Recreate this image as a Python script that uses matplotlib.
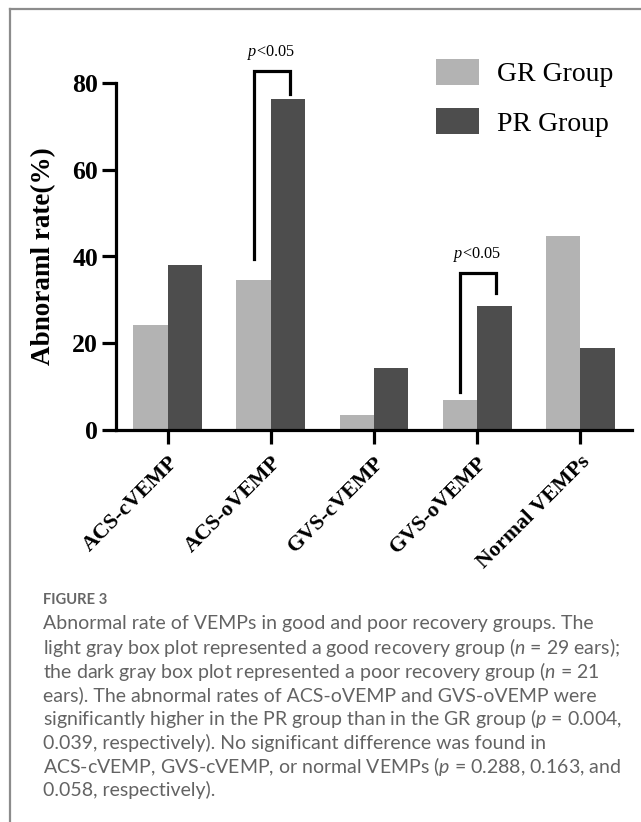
import numpy as np
import matplotlib.pyplot as plt
from matplotlib.lines import Line2D

plt.rcParams['mathtext.fontset'] = 'custom'
plt.rcParams['mathtext.rm'] = 'Liberation Serif'
plt.rcParams['mathtext.it'] = 'Liberation Serif:italic'
plt.rcParams['mathtext.bf'] = 'Lato:italic'

# abnormal rate (%) per test, good vs poor recovery
categories = ['ACS-cVEMP', 'ACS-oVEMP', 'GVS-cVEMP', 'GVS-oVEMP', 'Normal VEMPs']
gr_rate = [24.1, 34.5, 3.4, 6.9, 44.8]
pr_rate = [38.1, 76.2, 14.3, 28.6, 19.0]

# significance brackets: category index, left leg start, top, right leg end
sig_cat = [1, 3]
sig_left = [39.5, 8.8]
sig_top = [82.8, 36.2]
sig_right = [77.5, 31.5]
sig_label = r'$\mathit{p}$<0.05'

caption_title = 'FIGURE 3'
caption_lines = [
    'Abnormal rate of VEMPs in good and poor recovery groups. The',
    r'light gray box plot represented a good recovery group ($\mathbf{n}$ = 29 ears);',
    r'the dark gray box plot represented a poor recovery group ($\mathbf{n}$ = 21',
    'ears). The abnormal rates of ACS-oVEMP and GVS-oVEMP were',
    r'significantly higher in the PR group than in the GR group ($\mathbf{p}$ = 0.004,',
    '0.039, respectively). No significant difference was found in',
    r'ACS-cVEMP, GVS-cVEMP, or normal VEMPs ($\mathbf{p}$ = 0.288, 0.163, and',
    '0.058, respectively).',
]

light = '#b3b3b3'
dark = '#4d4d4d'
serif = 'Liberation Serif'

fig = plt.figure(figsize=(6.41, 8.22), dpi=100)
ax = fig.add_axes([116 / 641, 1 - 430 / 822, 516 / 641, 347 / 822])

x = np.arange(len(categories))
w = 1 / 3
ax.bar(x - w / 2, gr_rate, w, color=light, label='GR Group')
ax.bar(x + w / 2, pr_rate, w, color=dark, label='PR Group')

ax.set_xlim(-0.5, len(categories) - 0.5)
ax.set_ylim(0, 80)
ax.set_yticks([0, 20, 40, 60, 80])
ax.set_xticks(x)
ax.set_xticklabels(categories, rotation=45, ha='right', va='top',
                   rotation_mode='anchor', fontsize=15.8, fontweight='bold',
                   family=serif)
for t in ax.get_yticklabels():
    t.set_fontsize(18.5)
    t.set_fontweight('bold')
    t.set_family(serif)

for s in ['top', 'right']:
    ax.spines[s].set_visible(False)
for s in ['left', 'bottom']:
    ax.spines[s].set_linewidth(2.3)
ax.tick_params(axis='both', width=2.3, length=10, direction='out')
ax.tick_params(axis='y', pad=3)
ax.tick_params(axis='x', pad=6)

ax.set_ylabel('Abnoraml rate(%)', fontsize=19.5, fontweight='bold',
              family=serif)
ax.yaxis.set_label_coords(-(116 - 56) / 516, 0.5)

# significance brackets
for c, lo, top, hi in zip(sig_cat, sig_left, sig_top, sig_right):
    xl, xr = c - w / 2, c + w / 2 + 0.02
    ax.plot([xl, xl, xr, xr], [lo, top, top, hi], color='black', lw=2.3,
            solid_joinstyle='miter', clip_on=False)
    ax.text(c, top + 4.3, sig_label, ha='center', va='center', fontsize=11.7,
            family=serif, clip_on=False)

leg = ax.legend(loc='upper left', bbox_to_anchor=(436 / 641, 1 - 59 / 822),
                bbox_transform=fig.transFigure, frameon=False,
                prop={'family': serif, 'size': 20}, handlelength=1.55,
                handleheight=1.05, handletextpad=0.65, labelspacing=0.75,
                borderaxespad=0, borderpad=0)

# caption block
fig.text(43 / 641, 1 - 600 / 822, caption_title, fontsize=10.6, fontweight='bold',
         family='Lato', color='#666666', va='center')
for i, line in enumerate(caption_lines):
    fig.text(43 / 641, 1 - (623.5 + 23.8 * i) / 822, line, fontsize=14.0,
             family='Lato', color='#636363', va='center')

# frame lines at the left and top edge
fig.add_artist(Line2D([10 / 641, 10 / 641], [0, 1 - 9.5 / 822],
                      color='#8c8c8c', lw=1.6))
fig.add_artist(Line2D([10 / 641, 1], [1 - 9.5 / 822, 1 - 9.5 / 822],
                      color='#8c8c8c', lw=1.6))

fig.savefig('out.png', dpi=100)
